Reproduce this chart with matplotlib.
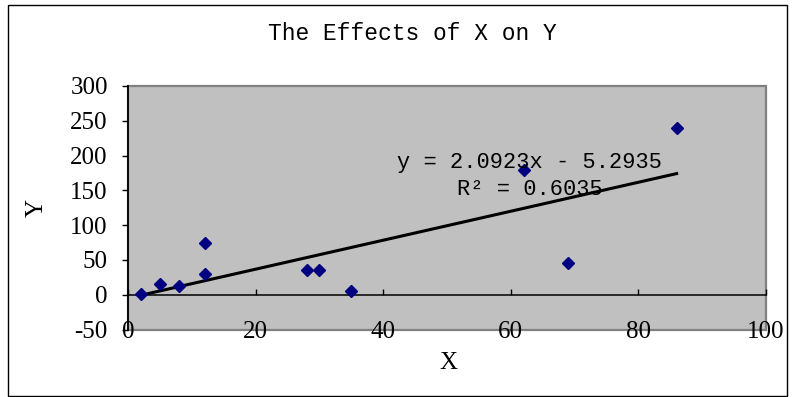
# Scatter of X vs Y with a linear trend line (Excel-style chart)

import numpy as np
import matplotlib.pyplot as plt
from matplotlib.patches import Rectangle

x_vals = [2, 5, 8, 12, 12, 28, 30, 35, 62, 69, 86]
y_vals = [1, 15, 12, 75, 30, 35, 35, 6, 179, 45, 239]
x_ticks = [0, 20, 40, 60, 80, 100]
y_ticks = [-50, 0, 50, 100, 150, 200, 250, 300]
title = "The Effects of X on Y"
eq_text = "y = 2.0923x - 5.2935\nR² = 0.6035"

mono = "Liberation Mono"
serif = "Liberation Serif"

fig = plt.figure(figsize=(7.95, 3.97), dpi=100)
ax = fig.add_axes([0.161, 0.170, 0.8025, 0.6135])

ax.set_facecolor("#c0c0c0")
ax.set_xlim(0, 100)
ax.set_ylim(-50, 300)

# trend line from a least squares fit
slope, icpt = np.polyfit(x_vals, y_vals, 1)
xs = np.array([min(x_vals), max(x_vals)])
ax.plot(xs, slope * xs + icpt, color="black", lw=2.2, zorder=3)

ax.plot(x_vals, y_vals, linestyle="none", marker="D", markersize=6,
        color="#000080", markeredgecolor="#000080", zorder=4)

# axes: x axis crosses at y=0, ticks point up
for s in ["top", "right"]:
    ax.spines[s].set_visible(False)
ax.spines["bottom"].set_position(("data", 0))
ax.spines["bottom"].set_color("black")
ax.spines["bottom"].set_linewidth(1.1)
ax.spines["left"].set_color("black")
ax.spines["left"].set_linewidth(1.3)
ax.add_patch(Rectangle((0, 0), 1, 1, transform=ax.transAxes, fill=False,
                       edgecolor="#808080", lw=1.6, zorder=0.5, clip_on=False))

ax.set_xticks(x_ticks)
ax.set_yticks(y_ticks)
ax.set_xticklabels([str(t) for t in x_ticks])
ax.set_yticklabels([str(t) for t in y_ticks])
ax.tick_params(axis="x", direction="in", length=4.5, width=1, pad=19,
               labelsize=18)
ax.tick_params(axis="y", direction="out", length=4.5, width=1, pad=10,
               labelsize=18)
for lab in ax.get_xticklabels() + ax.get_yticklabels():
    lab.set_family(serif)

ax.text(0.63, 0.63, eq_text, transform=ax.transAxes, ha="center",
        va="center", fontsize=15.8, family=mono, linespacing=1.4, zorder=5)

fig.text(412 / 795, 1 - 33 / 397, title, ha="center", va="center",
         fontsize=16.5, family=mono)
fig.text(448 / 795, 1 - 363 / 397, "X", ha="center", va="center",
         fontsize=18, family=serif)
fig.text(37 / 795, 1 - 208 / 397, "Y", ha="center", va="center",
         fontsize=18, family=serif, rotation=90)

# chart area border
fig.add_artist(Rectangle((8 / 795, 1 / 397), 779 / 795, 391 / 397,
                         transform=fig.transFigure, fill=False,
                         edgecolor="black", lw=1))

fig.savefig("out.png", dpi=100)
